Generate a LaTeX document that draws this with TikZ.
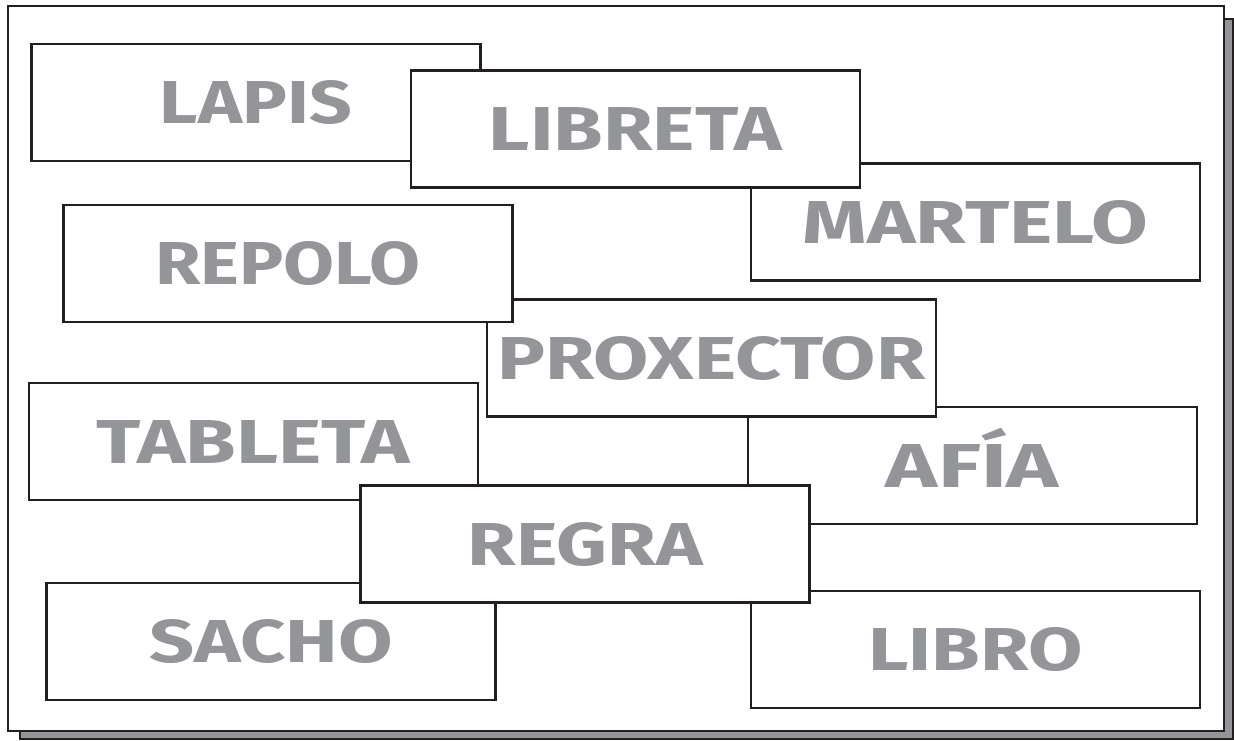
\documentclass[tikz,border=0pt]{standalone}
\usepackage{fontspec}
\setmainfont{Fira Sans}
\usepackage{graphicx}
\definecolor{wordgray}{RGB}{147,149,152}
\definecolor{shadowgray}{RGB}{147,149,152}
\definecolor{ink}{RGB}{35,31,32}
\newcommand{\cardword}[2]{\resizebox{#1pt}{43pt}{\bfseries #2}}
\tikzset{
  card/.style={draw=ink, line width=2.6pt, fill=white, inner sep=0pt,
    minimum width=449pt, minimum height=117pt, text=wordgray},
}
\begin{document}
\begin{tikzpicture}[x=1pt,y=-1pt]
\useasboundingbox (0,0) rectangle (1234,740);
% shadow and frame
\path[fill=shadowgray, draw=ink, line width=1.5pt] (20,19) rectangle (1233,739);
\path[fill=white, draw=ink, line width=2.2pt] (8,6) rectangle (1224,731);
% cards (drawing order gives overlap)
\node[card] (lapis) at (256,102.5) {\cardword{192}{LAPIS}};
\node[card] (martelo) at (975.5,222) {\cardword{345}{MARTELO}};
\node[card] (libreta) at (635.5,129) {\cardword{293}{LIBRETA}};
\node[card] (afia) at (972.5,465.5) {\resizebox{173pt}{43pt}{\bfseries AF\smash{Í}A}};
\node[card] (proxector) at (711.5,358) {\cardword{428}{PROXECTOR}};
\node[card] (repolo) at (288,263.5) {\cardword{265}{REPOLO}};
\node[card] (tableta) at (253.5,441.5) {\cardword{313}{TABLETA}};
\node[card] (sacho) at (271,641.5) {\cardword{243}{SACHO}};
\node[card] (libro) at (975.5,649.5) {\cardword{214}{LIBRO}};
\node[card] (regra) at (585,544) {\cardword{235}{REGRA}};
\end{tikzpicture}
\end{document}
